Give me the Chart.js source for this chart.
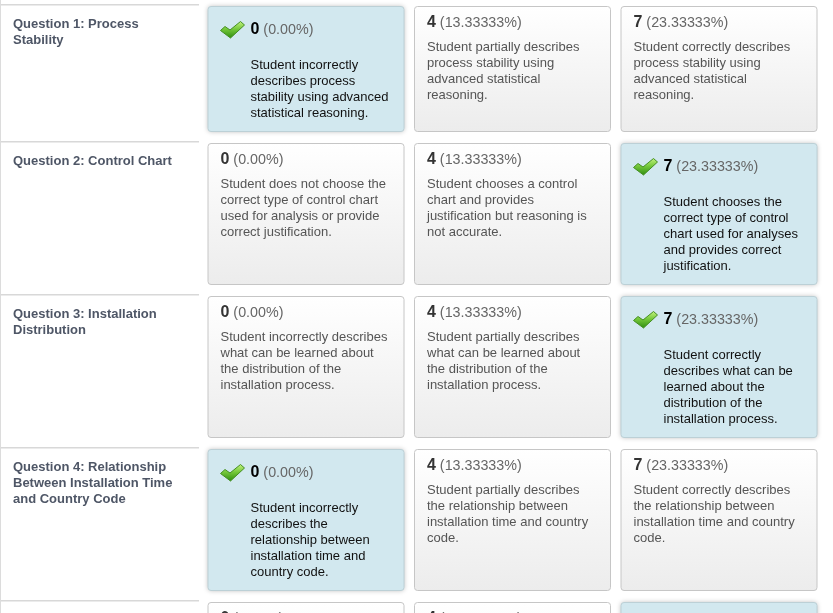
<!DOCTYPE html>
<html>
<head>
<meta charset="utf-8">
<script src="https://cdn.jsdelivr.net/npm/chart.js@4.4.1/dist/chart.umd.min.js"></script>
<style>
  html, body { margin: 0; padding: 0; background: #fff; overflow: hidden; }
  #wrap { width: 833px; height: 613px; position: relative; }
</style>
</head>
<body>
<div id="wrap"><canvas id="rubricChart"></canvas></div>
<script>
// Rubric grid: one row per question, one column per level
const questionLabels = [
  ['Question 1: Process', 'Stability'],
  ['Question 2: Control Chart'],
  ['Question 3: Installation', 'Distribution'],
  ['Question 4: Relationship', 'Between Installation Time', 'and Country Code'],
  ['']
];
const levelPoints = [0, 4, 7];
const levelPercents = ['(0.00%)', '(13.33333%)', '(23.33333%)'];
const chosenLevel = [0, 2, 2, 0, 2];
const descriptions = [
  [
    ['Student incorrectly', 'describes process', 'stability using advanced', 'statistical reasoning.'],
    ['Student partially describes', 'process stability using', 'advanced statistical', 'reasoning.'],
    ['Student correctly describes', 'process stability using', 'advanced statistical', 'reasoning.']
  ],
  [
    ['Student does not choose the', 'correct type of control chart', 'used for analysis or provide', 'correct justification.'],
    ['Student chooses a control', 'chart and provides', 'justification but reasoning is', 'not accurate.'],
    ['Student chooses the', 'correct type of control', 'chart used for analyses', 'and provides correct', 'justification.']
  ],
  [
    ['Student incorrectly describes', 'what can be learned about', 'the distribution of the', 'installation process.'],
    ['Student partially describes', 'what can be learned about', 'the distribution of the', 'installation process.'],
    ['Student correctly', 'describes what can be', 'learned about the', 'distribution of the', 'installation process.']
  ],
  [
    ['Student incorrectly', 'describes the', 'relationship between', 'installation time and', 'country code.'],
    ['Student partially describes', 'the relationship between', 'installation time and country', 'code.'],
    ['Student correctly describes', 'the relationship between', 'installation time and country', 'code.']
  ],
  [[], [], []]
];

// layout metrics (in y-scale units, 1 unit = 1 line px)
const LINE = 16;
const FIRST_PLAIN = 40, FIRST_CHOSEN = 58, BOTTOM_PAD = 20, ROW_GAP = 11, TOP_MARGIN = 6;
const TEXT_NUDGE = 1;
const CELL_FRAC = 0.954;

function rowHeight(r) {
  let h = 126;
  descriptions[r].forEach((lines, c) => {
    const first = chosenLevel[r] === c ? FIRST_CHOSEN : FIRST_PLAIN;
    h = Math.max(h, first + LINE * (Math.max(lines.length, 1) - 1) + BOTTOM_PAD);
  });
  return h;
}
const rowTops = [];
const rowHeights = [];
let acc = TOP_MARGIN;
questionLabels.forEach((q, r) => {
  rowTops.push(acc);
  rowHeights.push(rowHeight(r));
  acc += rowHeights[r] + ROW_GAP;
});

const FONT = '"Liberation Sans", Arial, sans-serif';

function drawCheck(ctx, x, y) {
  // x, y = top-left of a 24x17 icon
  ctx.save();
  ctx.translate(x, y);
  ctx.beginPath();
  ctx.moveTo(0, 9);
  ctx.lineTo(4.5, 5);
  ctx.lineTo(9.5, 8.5);
  ctx.lineTo(20, 0);
  ctx.lineTo(24, 3.5);
  ctx.lineTo(10, 16.5);
  ctx.closePath();
  const g = ctx.createLinearGradient(0, 0, 0, 17);
  g.addColorStop(0, '#c2f27e');
  g.addColorStop(0.45, '#74c83a');
  g.addColorStop(1, '#2c8a0e');
  ctx.fillStyle = g;
  ctx.fill();
  ctx.lineWidth = 1;
  ctx.strokeStyle = '#448f22';
  ctx.stroke();
  ctx.restore();
}

const rubricPlugin = {
  id: 'rubric',
  beforeDatasetsDraw(chart) {
    const { ctx, scales: { x, y } } = chart;
    ctx.save();

    // left rule of the label column
    ctx.fillStyle = '#dcdcdc';
    ctx.fillRect(Math.round(x.getPixelForValue(0)) - 1, 0, 1, chart.height);

    questionLabels.forEach((lines, r) => {
      const top = y.getPixelForValue(rowTops[r]);
      const bottom = y.getPixelForValue(rowTops[r] + rowHeights[r]);

      // separator over the label cell
      const lx0 = x.getPixelForValue(0);
      const lx1 = x.getPixelForValue(CELL_FRAC + 0.005);
      ctx.fillStyle = '#d8d8d8';
      ctx.fillRect(lx0, Math.round(top) - 2, lx1 - lx0, 1.5);

      // question label
      ctx.font = 'bold 13px ' + FONT;
      ctx.fillStyle = '#4e5666';
      ctx.textBaseline = 'middle';
      lines.forEach((t, i) => {
        ctx.fillText(t, lx0 + 12, top + 17 + TEXT_NUDGE + i * LINE);
      });

      // level cells
      levelPoints.forEach((pts, c) => {
        const x0 = x.getPixelForValue(c + 1);
        const x1 = x.getPixelForValue(c + 1 + CELL_FRAC);
        const w = x1 - x0, h = bottom - top;
        const chosen = chosenLevel[r] === c;

        ctx.save();
        ctx.beginPath();
        ctx.roundRect(x0 + 0.5, top + 0.5, w - 1, h - 1, 3);
        if (chosen) {
          ctx.shadowColor = 'rgba(0,0,0,0.28)';
          ctx.shadowBlur = 5;
          ctx.fillStyle = '#d2e8ef';
          ctx.fill();
          ctx.shadowColor = 'transparent';
          ctx.strokeStyle = '#bcd0d6';
        } else {
          const g = ctx.createLinearGradient(0, top, 0, bottom);
          g.addColorStop(0, '#ffffff');
          g.addColorStop(1, '#ececec');
          ctx.fillStyle = g;
          ctx.fill();
          ctx.strokeStyle = '#c6c6c6';
        }
        ctx.lineWidth = 1;
        ctx.stroke();
        ctx.restore();

        // header: points + percent
        let hx = x0 + 13;
        const hy = top + (chosen ? 23 : 16) + TEXT_NUDGE;
        if (chosen) {
          drawCheck(ctx, x0 + 13, hy - 8.5);
          hx = x0 + 43;
        }
        ctx.textBaseline = 'middle';
        ctx.font = 'bold 16px ' + FONT;
        ctx.fillStyle = chosen ? '#000' : '#333';
        ctx.fillText(String(pts), hx, hy);
        hx += ctx.measureText(String(pts)).width;
        ctx.font = '14.3px ' + FONT;
        ctx.fillStyle = '#666';
        ctx.fillText(' ' + levelPercents[c], hx, hy);

        // description
        ctx.font = '13px ' + FONT;
        ctx.fillStyle = chosen ? '#111' : '#555';
        const dx = chosen ? x0 + 43 : x0 + 13;
        const dy = top + (chosen ? FIRST_CHOSEN : FIRST_PLAIN) + TEXT_NUDGE;
        descriptions[r][c].forEach((t, i) => {
          ctx.fillText(t, dx, dy + i * LINE);
        });
      });
    });
    ctx.restore();
  }
};

const rubricChart = new Chart(document.getElementById('rubricChart'), {
  type: 'scatter',
  data: { datasets: [] },
  options: {
    responsive: true,
    maintainAspectRatio: false,
    animation: false,
    events: [],
    layout: { padding: { left: 1, right: 6, top: 0, bottom: 0 } },
    plugins: { legend: { display: false }, tooltip: { enabled: false } },
    scales: {
      x: { type: 'linear', min: 0, max: 4, display: false },
      y: { type: 'linear', min: 0, max: 613, reverse: true, display: false }
    }
  },
  plugins: [rubricPlugin]
});
</script>
</body>
</html>
